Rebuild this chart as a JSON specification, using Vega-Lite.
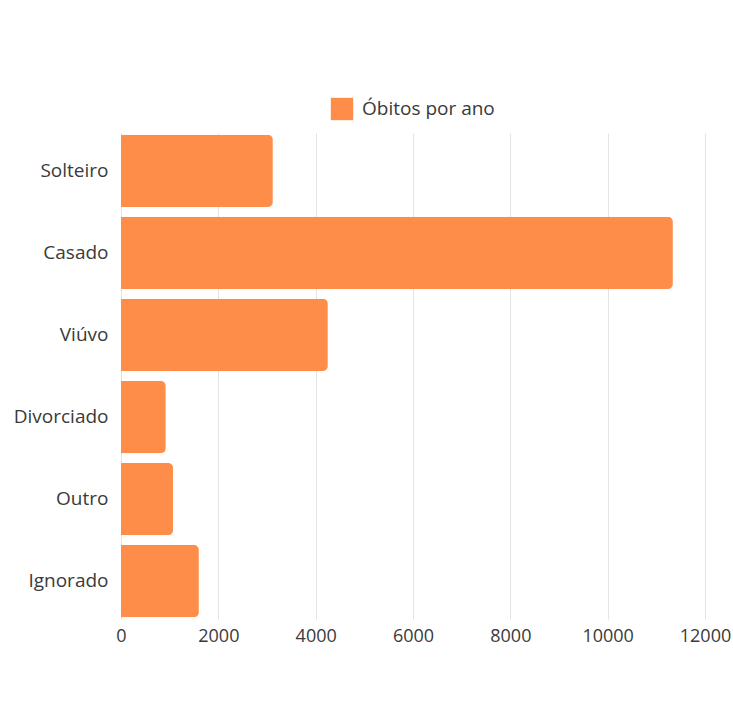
{
  "$schema": "https://vega.github.io/schema/vega-lite/v6.json",
  "width": 584,
  "height": 486,
  "autosize": {"type": "none"},
  "padding": {"left": 121, "top": 133, "right": 28, "bottom": 94},
  "background": "white",
  "data": {"values": [
    {"estado": "Solteiro", "obitos": 3120},
    {"estado": "Casado", "obitos": 11340},
    {"estado": "Viúvo", "obitos": 4250},
    {"estado": "Divorciado", "obitos": 920},
    {"estado": "Outro", "obitos": 1070},
    {"estado": "Ignorado", "obitos": 1600}
  ]},
  "mark": {"type": "bar", "cornerRadiusEnd": 5},
  "encoding": {
    "y": {
      "field": "estado", "type": "nominal", "sort": null,
      "scale": {"paddingInner": 0.12, "paddingOuter": 0.02},
      "axis": {"title": null, "domain": false, "ticks": false, "labelPadding": 13, "labelFontSize": 19, "labelColor": "#3a3a3a", "labelFont": "Open Sans"}
    },
    "x": {
      "field": "obitos", "type": "quantitative",
      "scale": {"domain": [0, 12000], "nice": false},
      "axis": {"title": null, "values": [0, 2000, 4000, 6000, 8000, 10000, 12000], "format": "d", "domain": false, "ticks": false, "grid": true, "gridColor": "#e3e3e3", "labelFlush": false, "labelPadding": 8, "labelFontSize": 18, "labelColor": "#3a3a3a", "labelFont": "Open Sans"}
    },
    "color": {
      "datum": "Óbitos por ano",
      "scale": {"range": ["#FD8D49"]},
      "legend": {"title": null, "orient": "none", "legendX": 209, "legendY": -36, "symbolType": "square", "symbolSize": 500, "symbolOpacity": 1, "labelFontSize": 19, "labelColor": "#3a3a3a", "labelFont": "Open Sans", "labelOffset": 8}
    }
  },
  "config": {"view": {"stroke": null}}
}
